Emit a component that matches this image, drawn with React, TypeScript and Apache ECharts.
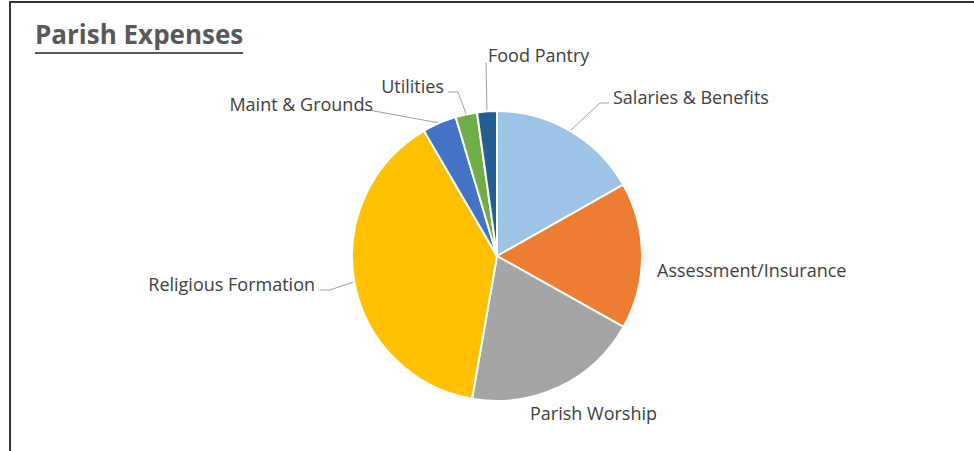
import React, { useEffect, useRef } from "react";
import * as echarts from "echarts";

const categories = [
  "Salaries & Benefits",
  "Assessment/Insurance",
  "Parish Worship",
  "Religious Formation",
  "Maint & Grounds",
  "Utilities",
  "Food Pantry",
];
const values = [16.8, 16.3, 19.6, 38.8, 3.8, 2.4, 2.2];
const colors = ["#9DC3E6", "#ED7D31", "#A5A5A5", "#FFC000", "#4472C4", "#70AD47", "#255E91"];
const titleText = "Parish Expenses";

// label layout: [x, y, align, linePoints (excluding the pie-edge start)]
const labelPlaces: [number, number, string, number[][] | null][] = [
  [613, 97, "left", [[600, 103], [609, 103]]],
  [657, 270, "left", null],
  [530, 413, "left", null],
  [315, 284, "right", [[330, 290], [320, 290]]],
  [373, 104, "right", [[363, 109], [363, 109]]],
  [444, 86, "right", [[458, 92], [448, 92]]],
  [488, 55, "left", [[486, 62], [486, 62]]],
];

export default function App() {
  const ref = useRef<HTMLDivElement>(null);
  useEffect(() => {
    if (!ref.current) return;
    const chart = echarts.init(ref.current, undefined, { renderer: "svg" });
    const cx = 497, cy = 256, R = 145;
    const total = values.reduce((a, b) => a + b, 0);
    const edgePoint = (i: number) => {
      let before = 0;
      for (let k = 0; k < i; k++) before += values[k];
      const mid = ((before + values[i] / 2) / total) * Math.PI * 2;
      return [cx + R * Math.sin(mid), cy - R * Math.cos(mid)];
    };
    chart.setOption({
      animation: false,
      backgroundColor: "#ffffff",
      graphic: [
        { type: "line", shape: { x1: 9, y1: 2, x2: 974, y2: 2 }, style: { stroke: "#333333", lineWidth: 2 } },
        { type: "line", shape: { x1: 10, y1: 2, x2: 10, y2: 451 }, style: { stroke: "#333333", lineWidth: 2 } },
        {
          type: "text",
          left: 35,
          top: 21,
          style: {
            text: titleText,
            fill: "#595959",
            font: "bold 26px 'Open Sans', sans-serif",
          },
        },
        { type: "line", shape: { x1: 35, y1: 53, x2: 243, y2: 53 }, style: { stroke: "#595959", lineWidth: 2 } },
      ],
      series: [
        {
          type: "pie",
          center: [cx, cy],
          radius: R,
          startAngle: 90,
          clockwise: true,
          avoidLabelOverlap: false,
          itemStyle: { borderColor: "#ffffff", borderWidth: 2 },
          label: {
            show: true,
            position: "outside",
            color: "#404040",
            fontSize: 18,
            fontFamily: "'Open Sans', sans-serif",
            formatter: "{b}",
          },
          labelLine: {
            show: true,
            lineStyle: { color: "#A0A0A0", width: 1 },
          },
          labelLayout: (params: any) => {
            const i = params.dataIndex;
            const p = labelPlaces[i];
            const out: any = { x: p[0], y: p[1], align: p[2], verticalAlign: "middle" };
            if (p[3]) {
              out.labelLinePoints = [edgePoint(i), ...p[3]];
            }
            return out;
          },
          data: categories.map((name, i) => ({
            name,
            value: values[i],
            itemStyle: { color: colors[i] },
            labelLine: { show: labelPlaces[i][3] !== null },
          })),
        },
      ],
    });
    return () => chart.dispose();
  }, []);
  return (
    <div
      ref={ref}
      style={{ position: "fixed", left: 0, top: 0, width: 974, height: 451 }}
    />
  );
}
